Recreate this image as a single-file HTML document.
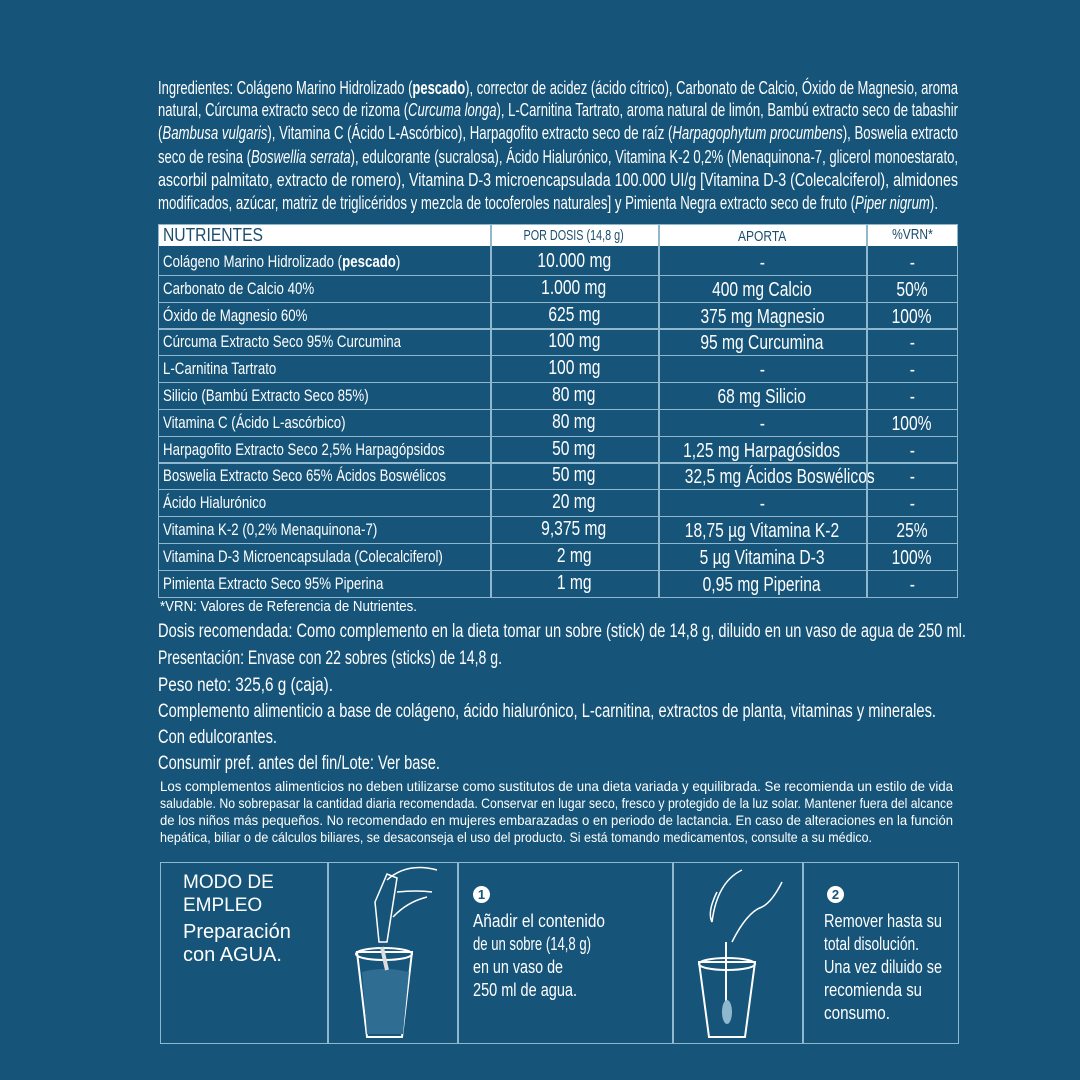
<!DOCTYPE html>
<html><head><meta charset="utf-8"><style>
html,body{margin:0;padding:0}
body{width:1080px;height:1080px;background:#165579;position:relative;overflow:hidden;font-family:"Liberation Sans",sans-serif;color:#fff}
.l{position:absolute;white-space:nowrap;line-height:1}
.l>span{display:inline-block;transform-origin:0 50%;white-space:nowrap}
.c>span{transform-origin:50% 50%}
.box{position:absolute;border:1.5px solid #8fb8cf}
.vl{position:absolute;background:#8fb8cf}
</style></head><body>
<!-- ingredients -->
<div class="l" style="left:158px;top:79px;font-size:18px;width:800px"><span>Ingredientes: Colágeno Marino Hidrolizado (<b>pescado</b>), corrector de acidez (ácido cítrico), Carbonato de Calcio, Óxido de Magnesio, aroma</span></div>
<div class="l" style="left:158px;top:101px;font-size:18px;width:800px"><span>natural, Cúrcuma extracto seco de rizoma (<i>Curcuma longa</i>), L-Carnitina Tartrato, aroma natural de limón, Bambú extracto seco de tabashir</span></div>
<div class="l" style="left:158px;top:124px;font-size:18px;width:800px"><span>(<i>Bambusa vulgaris</i>), Vitamina C (Ácido L-Ascórbico), Harpagofito extracto seco de raíz (<i>Harpagophytum procumbens</i>), Boswelia extracto</span></div>
<div class="l" style="left:158px;top:148px;font-size:18px;width:800px"><span>seco de resina (<i>Boswellia serrata</i>), edulcorante (sucralosa), Ácido Hialurónico, Vitamina K-2 0,2% (Menaquinona-7, glicerol monoestarato,</span></div>
<div class="l" style="left:158px;top:171px;font-size:18px;width:800px"><span>ascorbil palmitato, extracto de romero), Vitamina D-3 microencapsulada 100.000 UI/g [Vitamina D-3 (Colecalciferol), almidones</span></div>
<div class="l" style="left:158px;top:194px;font-size:18px;width:780px"><span>modificados, azúcar, matriz de triglicéridos y mezcla de tocoferoles naturales] y Pimienta Negra extracto seco de fruto (<i>Piper nigrum</i>).</span></div>

<!-- table -->
<div style="position:absolute;left:158px;top:224px;width:800px;height:22px;background:#fff"></div>
<div class="box" style="left:158px;top:224px;width:798px;height:372px"></div>
<div id="rows"></div>
<div class="vl" style="left:490px;top:224px;width:1.5px;height:373px"></div>
<div class="vl" style="left:658px;top:224px;width:1.5px;height:373px"></div>
<div class="vl" style="left:866px;top:224px;width:1.5px;height:373px"></div>
<div class="l" style="left:163px;top:226px;font-size:18px;color:#1b4e6e;width:100px"><span>NUTRIENTES</span></div>
<div class="l c" style="left:490px;top:228px;font-size:15px;color:#1b4e6e;width:168px;text-align:center"><span style="transform:scaleX(0.72)">POR DOSIS (14,8 g)</span></div>
<div class="l c" style="left:660px;top:229px;font-size:15px;color:#1b4e6e;width:205px;text-align:center"><span style="transform:scaleX(0.8)">APORTA</span></div>
<div class="l c" style="left:868px;top:227px;font-size:15px;color:#1b4e6e;width:88px;text-align:center"><span style="transform:scaleX(0.8)">%VRN*</span></div>

<!-- lower text -->
<div class="l" style="left:160px;top:599px;font-size:15px;width:257px"><span>*VRN: Valores de Referencia de Nutrientes.</span></div>
<div class="l" style="left:158px;top:622px;font-size:19px;width:808px"><span>Dosis recomendada: Como complemento en la dieta tomar un sobre (stick) de 14,8 g, diluido en un vaso de agua de 250 ml.</span></div>
<div class="l" style="left:158px;top:649px;font-size:19px;width:344px"><span>Presentación: Envase con 22 sobres (sticks) de 14,8 g.</span></div>
<div class="l" style="left:158px;top:676px;font-size:19px;width:175px"><span>Peso neto: 325,6 g (caja).</span></div>
<div class="l" style="left:158px;top:702px;font-size:19px;width:778px"><span>Complemento alimenticio a base de colágeno, ácido hialurónico, L-carnitina, extractos de planta, vitaminas y minerales.</span></div>
<div class="l" style="left:158px;top:728px;font-size:19px;width:119px"><span>Con edulcorantes.</span></div>
<div class="l" style="left:158px;top:754px;font-size:19px;width:282px"><span>Consumir pref. antes del fin/Lote: Ver base.</span></div>
<div class="l" style="left:160px;top:779px;font-size:14px;width:793px"><span>Los complementos alimenticios no deben utilizarse como sustitutos de una dieta variada y equilibrada. Se recomienda un estilo de vida</span></div>
<div class="l" style="left:160px;top:796px;font-size:14px;width:793px"><span>saludable. No sobrepasar la cantidad diaria recomendada. Conservar en lugar seco, fresco y protegido de la luz solar. Mantener fuera del alcance</span></div>
<div class="l" style="left:160px;top:813px;font-size:14px;width:793px"><span>de los niños más pequeños. No recomendado en mujeres embarazadas o en periodo de lactancia. En caso de alteraciones en la función</span></div>
<div class="l" style="left:160px;top:830px;font-size:14px;width:712px"><span>hepática, biliar o de cálculos biliares, se desaconseja el uso del producto. Si está tomando medicamentos, consulte a su médico.</span></div>

<!-- modo de empleo -->
<div class="box" style="left:160px;top:862px;width:797px;height:180px"></div>
<div class="vl" style="left:327px;top:862px;width:1.5px;height:182px"></div>
<div class="vl" style="left:457px;top:862px;width:1.5px;height:182px"></div>
<div class="vl" style="left:672px;top:862px;width:1.5px;height:182px"></div>
<div class="vl" style="left:802px;top:862px;width:1.5px;height:182px"></div>
<div class="l" style="left:183px;top:871px;font-size:19px;line-height:23px;white-space:normal">MODO DE<br>EMPLEO</div>
<div class="l" style="left:183px;top:921px;font-size:20px;line-height:23px;white-space:normal">Preparación<br>con AGUA.</div>
<div style="position:absolute;left:473px;top:886px;width:17px;height:17px;border-radius:50%;background:#fff;color:#165579;font-size:13px;text-align:center;line-height:17px;font-weight:bold">1</div>
<div style="position:absolute;left:827px;top:886px;width:17px;height:17px;border-radius:50%;background:#fff;color:#165579;font-size:13px;text-align:center;line-height:17px;font-weight:bold">2</div>
<div class="l" style="left:473px;top:912px;font-size:18px;width:132px"><span>Añadir el contenido</span></div>
<div class="l" style="left:473px;top:935px;font-size:18px;width:118px"><span>de un sobre (14,8 g)</span></div>
<div class="l" style="left:473px;top:958px;font-size:18px;width:90px"><span>en un vaso de</span></div>
<div class="l" style="left:473px;top:981px;font-size:18px;width:104px"><span>250 ml de agua.</span></div>
<div class="l" style="left:824px;top:912px;font-size:18px;width:118px"><span>Remover hasta su</span></div>
<div class="l" style="left:824px;top:935px;font-size:18px;width:95px"><span>total disolución.</span></div>
<div class="l" style="left:824px;top:958px;font-size:18px;width:118px"><span>Una vez diluido se</span></div>
<div class="l" style="left:824px;top:981px;font-size:18px;width:98px"><span>recomienda su</span></div>
<div class="l" style="left:824px;top:1004px;font-size:18px;width:66px"><span>consumo.</span></div>

<svg style="position:absolute;left:327px;top:862px" width="130" height="180" fill="none" stroke="#fff" stroke-width="2">
<path d="M30 90 L40 175 L75 175 L85 90 Z"/><ellipse cx="57" cy="92" rx="28" ry="6"/>
<path d="M35 110 Q57 104 82 110 L76 172 L40 172 Z" fill="#2f6e92" stroke="none"/>
<path d="M48 40 L60 12 L70 16 L60 80 L52 80 Z" stroke-width="1.5"/>
<path d="M60 18 Q80 0 110 8 M70 30 Q90 28 105 30 M66 55 Q80 40 100 35" stroke-width="1.5"/>
<path d="M55 85 Q58 100 60 108" stroke="#ddd" stroke-width="4"/>
</svg>
<svg style="position:absolute;left:672px;top:862px" width="130" height="180" fill="none" stroke="#fff" stroke-width="2">
<path d="M27 100 L37 175 L73 175 L83 100 Z"/><ellipse cx="55" cy="102" rx="28" ry="6"/>
<line x1="54" y1="80" x2="54" y2="140"/><ellipse cx="55" cy="150" rx="5" ry="12" fill="#8fb8cf" stroke="none"/>
<path d="M40 60 Q45 20 70 8 M60 80 Q75 50 90 45 Q100 40 110 20 M45 30 Q35 50 40 60" stroke-width="1.5"/>
</svg>

<script>
(function(){
var rows=[
["Colágeno Marino Hidrolizado (<b>pescado</b>)","10.000 mg","-","-"],
["Carbonato de Calcio 40%","1.000 mg","400 mg Calcio","50%"],
["Óxido de Magnesio 60%","625 mg","375 mg Magnesio","100%"],
["Cúrcuma Extracto Seco 95% Curcumina","100 mg","95 mg Curcumina","-"],
["L-Carnitina Tartrato","100 mg","-","-"],
["Silicio (Bambú Extracto Seco 85%)","80 mg","68 mg Silicio","-"],
["Vitamina C (Ácido L-ascórbico)","80 mg","-","100%"],
["Harpagofito Extracto Seco 2,5% Harpagópsidos","50 mg","1,25 mg Harpagósidos","-"],
["Boswelia Extracto Seco 65% Ácidos Boswélicos","50 mg","32,5 mg Ácidos Boswélicos","-"],
["Ácido Hialurónico","20 mg","-","-"],
["Vitamina K-2 (0,2% Menaquinona-7)","9,375 mg","18,75 µg Vitamina K-2","25%"],
["Vitamina D-3 Microencapsulada (Colecalciferol)","2 mg","5 µg Vitamina D-3","100%"],
["Pimienta Extracto Seco 95% Piperina","1 mg","0,95 mg Piperina","-"]];
var h="";
for(var i=0;i<rows.length;i++){
 var yy=248+i*26.8;
 if(i>0)h+='<div class="vl" style="left:158px;top:'+yy+'px;width:800px;height:1.2px"></div>';
 var r=rows[i];
 h+='<div class="l" style="left:163px;top:'+(yy+5)+'px;font-size:17px"><span class="sq">'+r[0]+'</span></div>';
 h+='<div class="l c" style="left:490px;top:'+(yy+3)+'px;width:168px;text-align:center;font-size:20px"><span class="sq">'+r[1]+'</span></div>';
 h+='<div class="l c" style="left:658px;top:'+(yy+5)+'px;width:208px;text-align:center;font-size:20px"><span class="sq">'+r[2]+'</span></div>';
 h+='<div class="l c" style="left:866px;top:'+(yy+5)+'px;width:92px;text-align:center;font-size:20px"><span class="sq">'+r[3]+'</span></div>';
}
document.getElementById("rows").innerHTML=h;
document.querySelectorAll(".sq").forEach(function(s){s.style.transform="scaleX(0.78)";});
document.querySelectorAll(".l").forEach(function(d){
 var w=parseFloat(d.style.width);var s=d.firstElementChild;
 if(!w||!s||s.tagName!="SPAN"||d.classList.contains("c"))return;
 var a=s.getBoundingClientRect().width; if(a>0)s.style.transform="scaleX("+(w/a)+")";
});
})();
</script>
</body></html>
